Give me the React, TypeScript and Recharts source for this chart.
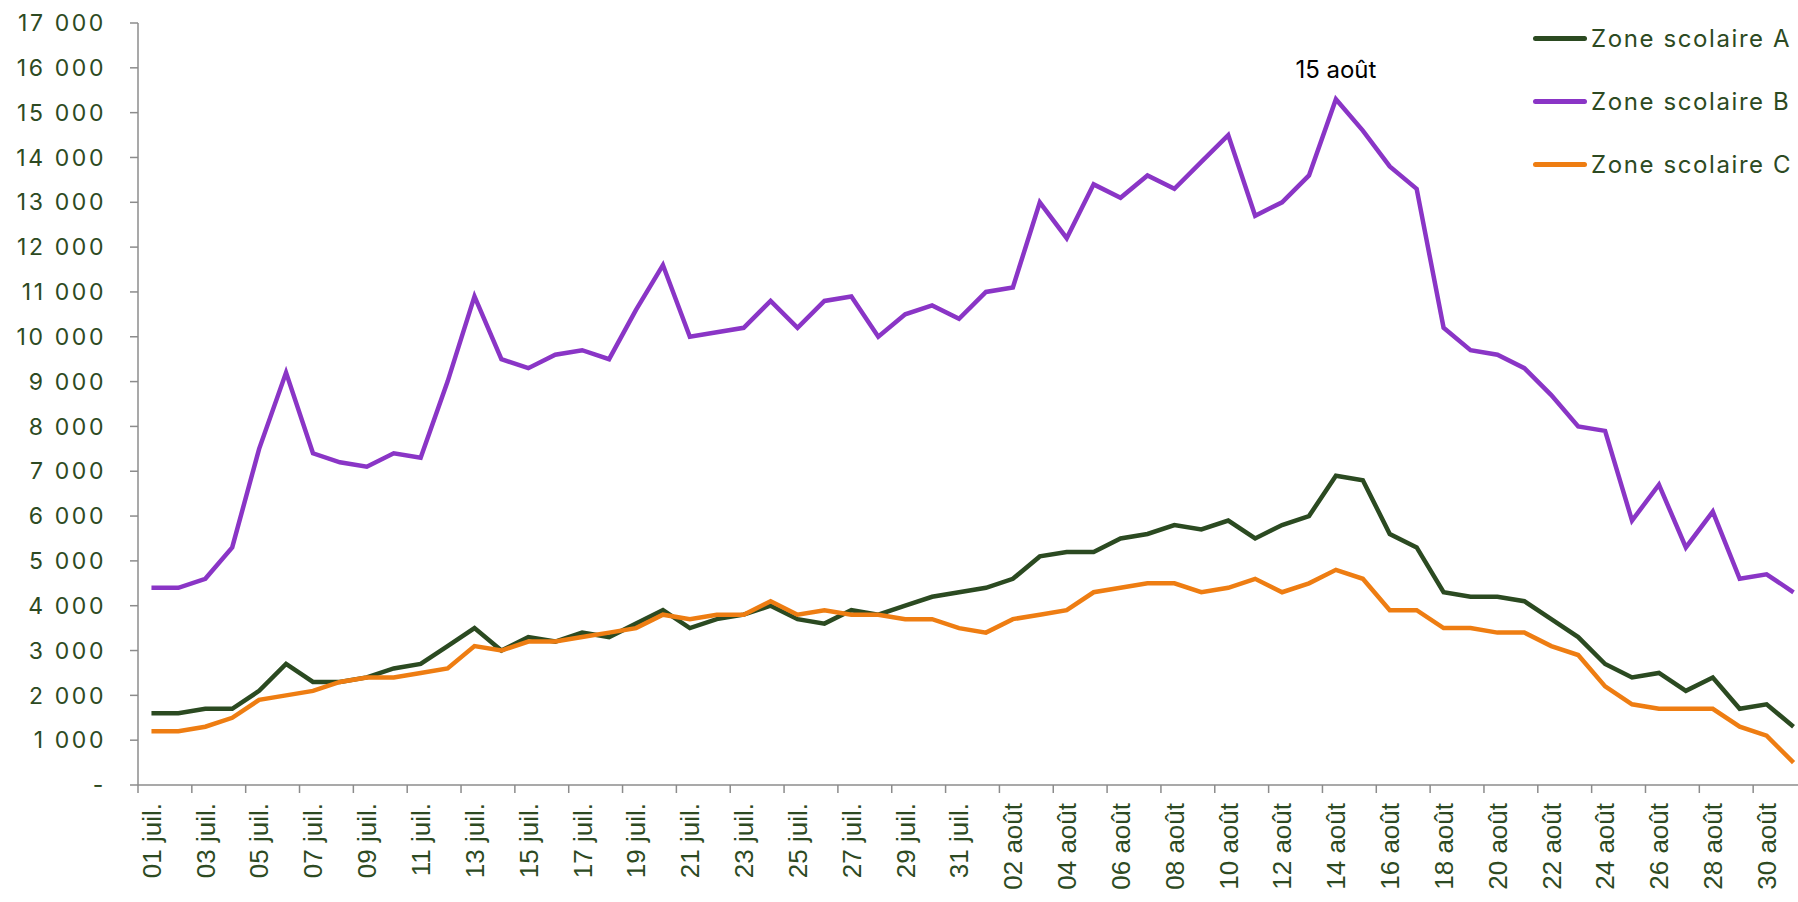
import { Legend, Line, LineChart, ReferenceDot, XAxis, YAxis } from 'recharts';

const days = [
  '01 juil.', '02 juil.', '03 juil.', '04 juil.', '05 juil.', '06 juil.', '07 juil.', '08 juil.',
  '09 juil.', '10 juil.', '11 juil.', '12 juil.', '13 juil.', '14 juil.', '15 juil.', '16 juil.',
  '17 juil.', '18 juil.', '19 juil.', '20 juil.', '21 juil.', '22 juil.', '23 juil.', '24 juil.',
  '25 juil.', '26 juil.', '27 juil.', '28 juil.', '29 juil.', '30 juil.', '31 juil.',
  '01 août', '02 août', '03 août', '04 août', '05 août', '06 août', '07 août', '08 août',
  '09 août', '10 août', '11 août', '12 août', '13 août', '14 août', '15 août', '16 août',
  '17 août', '18 août', '19 août', '20 août', '21 août', '22 août', '23 août', '24 août',
  '25 août', '26 août', '27 août', '28 août', '29 août', '30 août', '31 août'
];

const zoneA = [
  1600, 1600, 1700, 1700, 2100, 2700, 2300, 2300, 2400, 2600, 2700, 3100, 3500, 3000, 3300, 3200,
  3400, 3300, 3600, 3900, 3500, 3700, 3800, 4000, 3700, 3600, 3900, 3800, 4000, 4200, 4300,
  4400, 4600, 5100, 5200, 5200, 5500, 5600, 5800, 5700, 5900, 5500, 5800, 6000, 6900, 6800, 5600,
  5300, 4300, 4200, 4200, 4100, 3700, 3300, 2700, 2400, 2500, 2100, 2400, 1700, 1800, 1300
];

const zoneB = [
  4400, 4400, 4600, 5300, 7500, 9200, 7400, 7200, 7100, 7400, 7300, 9000, 10900, 9500, 9300, 9600,
  9700, 9500, 10600, 11600, 10000, 10100, 10200, 10800, 10200, 10800, 10900, 10000, 10500, 10700, 10400,
  11000, 11100, 13000, 12200, 13400, 13100, 13600, 13300, 13900, 14500, 12700, 13000, 13600, 15300, 14600, 13800,
  13300, 10200, 9700, 9600, 9300, 8700, 8000, 7900, 5900, 6700, 5300, 6100, 4600, 4700, 4300
];

const zoneC = [
  1200, 1200, 1300, 1500, 1900, 2000, 2100, 2300, 2400, 2400, 2500, 2600, 3100, 3000, 3200, 3200,
  3300, 3400, 3500, 3800, 3700, 3800, 3800, 4100, 3800, 3900, 3800, 3800, 3700, 3700, 3500,
  3400, 3700, 3800, 3900, 4300, 4400, 4500, 4500, 4300, 4400, 4600, 4300, 4500, 4800, 4600, 3900,
  3900, 3500, 3500, 3400, 3400, 3100, 2900, 2200, 1800, 1700, 1700, 1700, 1300, 1100, 500
];

const yTicks = [
  0, 1000, 2000, 3000, 4000, 5000, 6000, 7000, 8000, 9000, 10000, 11000, 12000, 13000, 14000, 15000, 16000, 17000
];

const data = days.map((day, i) => ({ day, a: zoneA[i], b: zoneB[i], c: zoneC[i] }));

const CHART_WIDTH = 1807;
const CHART_HEIGHT = 902;
const Y_AXIS_WIDTH = 138;
const BAND = (CHART_WIDTH - Y_AXIS_WIDTH) / days.length;

const GREEN = '#2b4a21';
const PURPLE = '#8a35c6';
const ORANGE = '#ee7d12';
const AXIS_GREY = '#8c8c8c';
const TEXT_GREEN = '#2d4a22';
const SANS = 'Inter, "Noto Sans", sans-serif';

const formatThousands = (v: number) => (v === 0 ? '-' : v.toString().replace(/\B(?=(\d{3})+(?!\d))/g, ' '));

function DayTick({ x, y, payload }: any) {
  const axisY = y - 18;
  const edge = x - BAND / 2;
  return (
    <g>
      <line x1={edge} x2={edge} y1={axisY} y2={axisY + 8} stroke={AXIS_GREY} strokeWidth={1.5} />
      <text
        x={x}
        y={y}
        dy="0.36em"
        transform={`rotate(-90 ${x} ${y})`}
        textAnchor="end"
        fill={TEXT_GREEN}
        fontSize={26}
        fontFamily='"Liberation Sans", Arial, sans-serif'
      >
        {payload.value}
      </text>
    </g>
  );
}

function ZoneLegend({ payload }: any) {
  return (
    <div style={{ fontFamily: SANS }}>
      {(payload ?? []).map((entry: any) => (
        <div key={entry.value} style={{ display: 'flex', alignItems: 'center', height: 63 }}>
          <span
            style={{ display: 'inline-block', width: 54, height: 5, borderRadius: 3, background: entry.color, marginRight: 4 }}
          />
          <span style={{ fontSize: 24, letterSpacing: 1.6, color: TEXT_GREEN, lineHeight: 1 }}>{entry.value}</span>
        </div>
      ))}
    </div>
  );
}

export default function App() {
  return (
    <div style={{ position: 'fixed', left: 0, top: 0, width: 1798, height: 902, overflow: 'hidden', background: '#fff' }}>
      <LineChart width={CHART_WIDTH} height={CHART_HEIGHT} data={data} margin={{ top: 23, right: 0, bottom: 0, left: 0 }}>
        {/* half-band padding puts each day in the middle of its slot, like a category axis */}
        <XAxis
          dataKey="day"
          interval={1}
          height={117}
          padding={{ left: BAND / 2, right: BAND / 2 }}
          tickSize={8}
          tickMargin={10}
          tickLine={false}
          axisLine={{ stroke: AXIS_GREY, strokeWidth: 1.5 }}
          tick={<DayTick />}
        />
        <YAxis
          width={Y_AXIS_WIDTH}
          domain={[0, 17000]}
          ticks={yTicks}
          interval={0}
          tickSize={8}
          tickMargin={24}
          tickFormatter={formatThousands}
          axisLine={{ stroke: AXIS_GREY, strokeWidth: 1.5 }}
          tickLine={{ stroke: AXIS_GREY, strokeWidth: 1.5 }}
          tick={{ fill: TEXT_GREEN, fontSize: 23, fontFamily: SANS, letterSpacing: 2.6 }}
        />
        {/* centre + middle: legend reserves no plot space, then moved by wrapperStyle */}
        <Legend
          layout="horizontal"
          verticalAlign="middle"
          align="center"
          content={<ZoneLegend />}
          wrapperStyle={{ left: 1533, top: 7, width: 270 }}
        />
        <Line type="linear" dataKey="a" name="Zone scolaire A" stroke={GREEN} strokeWidth={4.5} dot={false} isAnimationActive={false} />
        <Line type="linear" dataKey="b" name="Zone scolaire B" stroke={PURPLE} strokeWidth={4.5} dot={false} isAnimationActive={false} />
        <Line type="linear" dataKey="c" name="Zone scolaire C" stroke={ORANGE} strokeWidth={4.5} dot={false} isAnimationActive={false} />
        <ReferenceDot
          x="14 août"
          y={15300}
          r={0}
          ifOverflow="visible"
          label={{ value: '15 août', position: 'top', offset: 21, fill: '#000', fontSize: 24, fontFamily: SANS }}
        />
      </LineChart>
    </div>
  );
}
